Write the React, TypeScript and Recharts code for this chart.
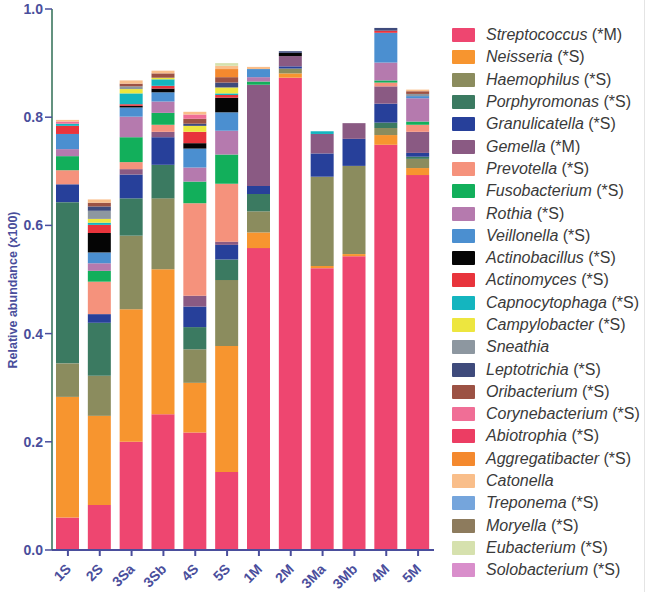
import React from "react";
import { BarChart, Bar, XAxis, YAxis, Label } from "recharts";

const categories = ["1S", "2S", "3Sa", "3Sb", "4S", "5S", "1M", "2M", "3Ma", "3Mb", "4M", "5M"];

const genera = [
  "Streptococcus", "Neisseria", "Haemophilus", "Porphyromonas", "Granulicatella", "Gemella",
  "Prevotella", "Fusobacterium", "Rothia", "Veillonella", "Actinobacillus", "Actinomyces",
  "Capnocytophaga", "Campylobacter", "Sneathia", "Leptotrichia", "Oribacterium", "Corynebacterium",
  "Abiotrophia", "Aggregatibacter", "Catonella", "Treponema", "Moryella", "Eubacterium", "Solobacterium",
];

const suffixes = [
  "(*M)", "(*S)", "(*S)", "(*S)", "(*S)", "(*M)", "(*S)", "(*S)", "(*S)", "(*S)", "(*S)", "(*S)",
  "(*S)", "(*S)", "", "(*S)", "(*S)", "(*S)", "(*S)", "(*S)", "", "(*S)", "(*S)", "(*S)", "(*S)",
];

const colors = [
  "#EE4670", "#F7952F", "#8B8C5E", "#3B7A61", "#27409A", "#8A5A83",
  "#F5927C", "#12AF5B", "#B57AAE", "#4B8FD0", "#050505", "#E8343C",
  "#14B5BF", "#EDE63F", "#8D97A0", "#3F4B7C", "#9C5244", "#F06E96",
  "#EC3D63", "#F4892E", "#F9BE8A", "#75A5DC", "#8D7B5D", "#D6E1AE", "#D98ECB",
];

// segment values per genus, one value per category (same order as categories)
const Streptococcus = [0.06, 0.083, 0.2, 0.251, 0.217, 0.144, 0.558, 0.873, 0.521, 0.543, 0.749, 0.693];
const Neisseria = [0.223, 0.165, 0.245, 0.268, 0.092, 0.233, 0.029, 0.008, 0.004, 0.004, 0.018, 0.013];
const Haemophilus = [0.062, 0.074, 0.136, 0.131, 0.062, 0.122, 0.039, 0.009, 0.165, 0.163, 0.013, 0.017];
const Porphyromonas = [0.298, 0.098, 0.069, 0.062, 0.041, 0.038, 0.032, 0, 0, 0, 0.01, 0.004];
const Granulicatella = [0.033, 0.016, 0.044, 0.051, 0.038, 0.027, 0.015, 0.004, 0.043, 0.05, 0.035, 0.007];
const Gemella = [0, 0, 0.01, 0.01, 0.02, 0.006, 0.187, 0.019, 0.036, 0.029, 0.032, 0.039];
const Prevotella = [0.026, 0.06, 0.013, 0.013, 0.171, 0.107, 0, 0, 0, 0, 0.007, 0.013];
const Fusobacterium = [0.026, 0.02, 0.046, 0.022, 0.04, 0.054, 0.006, 0, 0, 0, 0.004, 0.006];
const Rothia = [0.013, 0.014, 0.038, 0.021, 0.026, 0.044, 0.008, 0, 0, 0, 0.033, 0.043];
const Veillonella = [0.028, 0.02, 0.017, 0.017, 0.035, 0.034, 0.015, 0, 0, 0, 0.055, 0.004];
const Actinobacillus = [0, 0.036, 0.003, 0.007, 0.01, 0.027, 0, 0.006, 0, 0, 0, 0];
const Actinomyces = [0.015, 0.015, 0.003, 0.005, 0.021, 0.005, 0, 0, 0, 0, 0.004, 0];
const Capnocytophaga = [0.004, 0.004, 0.02, 0.012, 0, 0.003, 0, 0, 0.005, 0, 0, 0];
const Campylobacter = [0, 0.007, 0.008, 0.003, 0.011, 0.011, 0, 0, 0, 0, 0, 0];
const Sneathia = [0, 0.015, 0.005, 0, 0, 0, 0, 0, 0, 0, 0, 0.004];
const Leptotrichia = [0, 0.008, 0, 0, 0.004, 0.009, 0, 0.003, 0, 0, 0.005, 0];
const Oribacterium = [0, 0.007, 0.005, 0.008, 0.009, 0.01, 0, 0, 0, 0, 0, 0.005];
const Corynebacterium = [0.004, 0, 0, 0, 0.008, 0, 0, 0, 0, 0, 0, 0];
const Abiotrophia = [0, 0, 0, 0, 0, 0, 0, 0, 0, 0, 0, 0];
const Aggregatibacter = [0, 0, 0, 0, 0, 0.015, 0, 0, 0, 0, 0, 0];
const Catonella = [0.003, 0.006, 0.006, 0.005, 0.005, 0.006, 0.004, 0, 0, 0, 0, 0.003];
const Treponema = [0, 0, 0, 0, 0, 0, 0, 0, 0, 0, 0, 0];
const Moryella = [0, 0, 0, 0, 0, 0, 0, 0, 0, 0, 0, 0];
const Eubacterium = [0, 0, 0, 0, 0, 0.005, 0, 0, 0, 0, 0, 0];
const Solobacterium = [0, 0, 0, 0, 0, 0, 0, 0, 0, 0, 0, 0];

const seriesValues = [
  Streptococcus, Neisseria, Haemophilus, Porphyromonas, Granulicatella, Gemella,
  Prevotella, Fusobacterium, Rothia, Veillonella, Actinobacillus, Actinomyces,
  Capnocytophaga, Campylobacter, Sneathia, Leptotrichia, Oribacterium, Corynebacterium,
  Abiotrophia, Aggregatibacter, Catonella, Treponema, Moryella, Eubacterium, Solobacterium,
];

const yTicks = [0, 0.2, 0.4, 0.6, 0.8, 1.0];

const data = categories.map((name, ci) => {
  const row: Record<string, any> = { name };
  genera.forEach((g, gi) => {
    row[g] = seriesValues[gi][ci];
  });
  return row;
});

const INDIGO = "#4A4E9C";
const FONT = '"Liberation Sans", Arial, Helvetica, sans-serif';

const XTick = (props: any) => {
  const { x, y, payload } = props;
  return (
    <g transform={`translate(${x + 4},${y + 12})`}>
      <text
        x={0}
        y={0}
        textAnchor="end"
        transform="rotate(-45)"
        fill={INDIGO}
        fontSize={14}
        fontWeight="bold"
        fontFamily={FONT}
      >
        {payload.value}
      </text>
    </g>
  );
};

const YLabel = () => (
  <text
    transform="translate(17,290) rotate(-90)"
    textAnchor="middle"
    fill={INDIGO}
    fontSize={12.5}
    fontWeight="bold"
    fontFamily={FONT}
  >
    Relative abundance (x100)
  </text>
);

export default function App() {
  return (
    <div
      style={{
        position: "absolute",
        left: 0,
        top: 0,
        width: 646,
        height: 592,
        background: "#fff",
        fontFamily: FONT,
        overflow: "hidden",
      }}
    >
      <BarChart
        width={440}
        height={592}
        data={data}
        margin={{ top: 9, right: 6, bottom: 0, left: 0 }}
        barSize={23}
      >
        <XAxis
          dataKey="name"
          height={42}
          interval={0}
          tickSize={6}
          axisLine={{ stroke: INDIGO, strokeWidth: 2 }}
          tickLine={{ stroke: INDIGO, strokeWidth: 2 }}
          tick={<XTick />}
        />
        <YAxis
          width={52}
          domain={[0, 1]}
          ticks={yTicks}
          allowDataOverflow
          tickFormatter={(v: number) => v.toFixed(1)}
          axisLine={{ stroke: "#2F6E55", strokeWidth: 1.5 }}
          tickLine={{ stroke: INDIGO, strokeWidth: 1.5 }}
          tickSize={7}
          tick={{ fill: INDIGO, fontSize: 14, fontWeight: "bold", fontFamily: FONT }}
        >
          <Label content={<YLabel />} />
        </YAxis>
        {genera.map((g, i) => (
          <Bar key={g} dataKey={g} stackId="a" fill={colors[i]} isAnimationActive={false} />
        ))}
      </BarChart>
      <div style={{ position: "absolute", left: 452, top: 24, width: 194 }}>
        {genera.map((g, i) => (
          <div
            key={g}
            style={{
              height: 22.3,
              display: "flex",
              alignItems: "center",
              whiteSpace: "nowrap",
            }}
          >
            <div
              style={{
                width: 23,
                height: 14,
                background: colors[i],
                borderRadius: 1,
                flex: "none",
              }}
            />
            <span style={{ marginLeft: 11, fontSize: 16, color: "#3a3a3a", lineHeight: "18px" }}>
              <i>{g}</i>
              {suffixes[i] ? " " + suffixes[i] : ""}
            </span>
          </div>
        ))}
      </div>
      <div
        style={{
          position: "absolute",
          left: 644,
          top: 0,
          width: 1,
          height: 592,
          background: "#e4e4e4",
        }}
      />
    </div>
  );
}
